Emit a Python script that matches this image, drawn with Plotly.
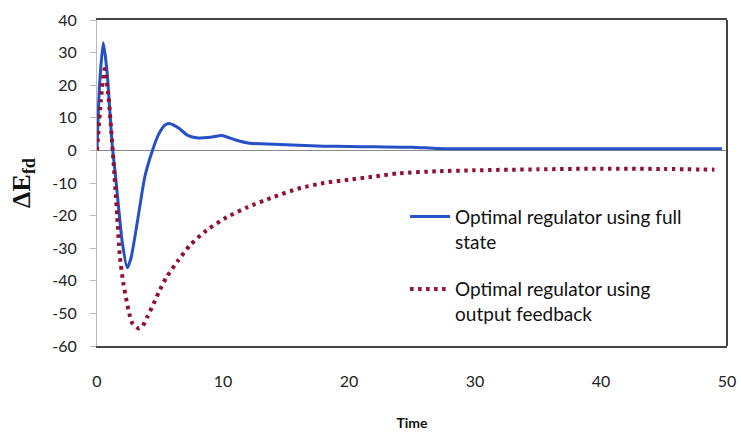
import plotly.graph_objects as go

# Data
t_full = [0, 0.2, 0.5, 0.8, 1.2, 1.5, 2.0, 2.4, 2.7, 3.2, 3.8, 4.4, 4.9, 5.4, 5.8,
          6.5, 7.2, 8.0, 9.0, 9.9, 11.0, 12.1, 14.0, 16.0, 18.0, 20.0, 22.0, 25.0,
          27.0, 30.0, 35.0, 40.0, 45.0, 49.6]
v_full = [0, 20, 33, 24, 2, -9, -28, -36, -33, -22, -8, 0, 5, 7.8, 8.2,
          6.8, 4.6, 3.8, 4.0, 4.6, 3.2, 2.2, 1.9, 1.6, 1.3, 1.2, 1.1, 1.0,
          0.6, 0.5, 0.5, 0.5, 0.5, 0.5]

t_out = [0, 0.3, 0.6, 0.9, 1.3, 1.6, 1.8, 2.1, 2.5, 2.8, 3.3, 3.6, 4.0, 4.5, 4.9,
         5.5, 6.4, 7.4, 8.7, 10.3, 11.9, 14.0, 16.0, 18.0, 20.0, 22.0, 24.0, 27.0,
         30.0, 35.0, 40.0, 45.0, 49.0]
v_out = [0, 15, 25, 17, -3, -20, -32, -41, -49, -53, -54.6, -54, -51, -47, -43.5,
         -39, -34, -29, -24.5, -20.5, -17.5, -14.3, -11.7, -10, -9, -8, -7, -6.4,
         -6.1, -5.8, -5.6, -5.7, -5.9]

x_ticks = [0, 10, 20, 30, 40, 50]
y_ticks = [-60, -50, -40, -30, -20, -10, 0, 10, 20, 30, 40]
y_tick_text = ["-60", "-50", "-40", "-30", "-20", "-10", "0", "10", "20", "30", "40"]

name_full = "Optimal regulator using full<br>state"
name_out = "Optimal regulator using<br>output feedback"

fig = go.Figure()
fig.add_trace(go.Scatter(
    x=t_full, y=v_full, mode="lines", name=name_full, legendgroup="a",
    line=dict(color="#2550c8", width=3, shape="spline", smoothing=0.6),
))
fig.add_trace(go.Scatter(
    x=t_out, y=v_out, mode="lines", name=name_out, legendgroup="b",
    line=dict(color="#921030", width=4, dash="3.5px,4.5px", shape="spline", smoothing=0.6),
))

tick_font = dict(family="Lato, 'Open Sans', sans-serif", size=16, color="#222")

fig.update_layout(
    width=741, height=435,
    margin=dict(l=97, r=14, t=20, b=89),
    paper_bgcolor="white", plot_bgcolor="white",
    showlegend=True,
    legend=dict(
        x=0.489, y=0.455, xanchor="left", yanchor="top",
        font=dict(family="Lato, 'Open Sans', sans-serif", size=19, color="#111"),
        valign="top", tracegroupgap=20, bgcolor="rgba(255,255,255,0)",
        itemwidth=40,
    ),
    xaxis=dict(
        range=[0, 50], tickvals=x_ticks, showgrid=False, zeroline=False,
        showline=True, linecolor="#444", linewidth=2, mirror=True,
        ticks="", ticklabelstandoff=20, tickfont=tick_font,
        title=dict(text="<b>Time</b>", font=dict(family="Lato, sans-serif", size=14, color="#111"),
                   standoff=29),
        automargin=False,
    ),
    yaxis=dict(
        range=[-60, 40], tickvals=y_ticks, ticktext=y_tick_text, showgrid=False,
        zeroline=True, zerolinecolor="#8a8a8a", zerolinewidth=1,
        showline=True, linecolor="#bbbbbb", linewidth=1,
        ticks="outside", ticklen=6, tickcolor="#bbbbbb", ticklabelstandoff=10,
        tickfont=tick_font,
        title=dict(text="<b>ΔE<sub>fd</sub></b>",
                   font=dict(family="'Liberation Serif', 'DejaVu Serif', serif", size=26, color="#111"),
                   standoff=14),
        automargin=False,
    ),
    shapes=[dict(type="line", xref="paper", yref="paper", x0=1, x1=1, y0=0, y1=1,
                 line=dict(color="#444", width=2))],
)

fig.write_html("out.html")
